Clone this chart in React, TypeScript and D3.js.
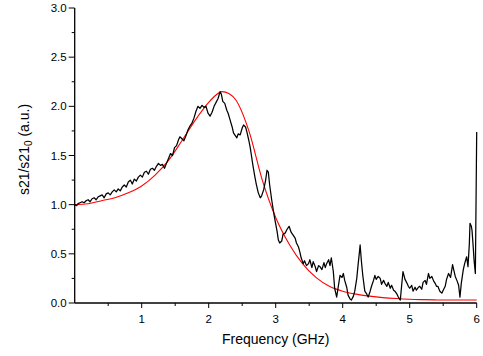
import React from "react";
import * as d3 from "d3";

const xTicks = [1, 2, 3, 4, 5, 6];
const xMinor = [0.5, 1.5, 2.5, 3.5, 4.5, 5.5];
const yTicks = [0, 0.5, 1.0, 1.5, 2.0, 2.5, 3.0];
const yMinor = [0.25, 0.75, 1.25, 1.75, 2.25, 2.75];

const fitFreq = [0, 0.2, 0.4, 0.6, 0.8, 1.0, 1.2, 1.4, 1.6, 1.8, 2.0, 2.1, 2.2, 2.3, 2.4, 2.6, 2.8, 3.0, 3.2, 3.4, 3.6, 3.8, 4.0, 4.2, 4.4, 4.6, 4.8, 5.0, 5.2, 5.4, 5.6, 5.8, 6.0];
const fitValue = [1.0, 1.01, 1.04, 1.07, 1.12, 1.19, 1.3, 1.45, 1.65, 1.86, 2.04, 2.11, 2.15, 2.13, 2.07, 1.75, 1.25, 0.87, 0.6, 0.4, 0.26, 0.17, 0.12, 0.09, 0.07, 0.055, 0.045, 0.038, 0.034, 0.031, 0.03, 0.03, 0.03];

const measFreq = [
  0.0, 0.03, 0.05, 0.08, 0.11, 0.14, 0.17, 0.2, 0.23, 0.26, 0.29, 0.32, 0.35, 0.38, 0.41, 0.44, 0.47, 0.5, 0.53, 0.56,
  0.59, 0.62, 0.65, 0.68, 0.71, 0.74, 0.77, 0.8, 0.83, 0.86, 0.89, 0.92, 0.95, 0.98, 1.01, 1.04, 1.07, 1.1, 1.13, 1.16,
  1.19, 1.22, 1.25, 1.28, 1.31, 1.34, 1.37, 1.4, 1.43, 1.46, 1.49, 1.52, 1.55, 1.57, 1.6, 1.63, 1.66, 1.69, 1.72, 1.75,
  1.78, 1.81, 1.84, 1.87, 1.9, 1.93, 1.96, 1.99, 2.02, 2.05, 2.08, 2.11, 2.14, 2.17, 2.19, 2.21, 2.24, 2.27, 2.29, 2.32,
  2.35, 2.37, 2.4, 2.42, 2.44, 2.47, 2.5, 2.52, 2.55, 2.57, 2.6, 2.62, 2.64, 2.66, 2.69, 2.71, 2.74, 2.77, 2.79, 2.82,
  2.85, 2.87, 2.89, 2.91, 2.94, 2.97, 2.99, 3.02, 3.04, 3.06, 3.09, 3.11, 3.14, 3.17, 3.2, 3.23, 3.26, 3.29, 3.31, 3.34,
  3.36, 3.38, 3.41, 3.43, 3.46, 3.49, 3.51, 3.54, 3.56, 3.59, 3.61, 3.64, 3.66, 3.69, 3.72, 3.74, 3.76, 3.79, 3.81, 3.83,
  3.86, 3.88, 3.91, 3.93, 3.96, 3.99, 4.01, 4.03, 4.06, 4.08, 4.11, 4.13, 4.16, 4.18, 4.21, 4.23, 4.25, 4.26, 4.28, 4.3,
  4.33, 4.36, 4.38, 4.41, 4.43, 4.46, 4.48, 4.5, 4.53, 4.56, 4.58, 4.61, 4.63, 4.66, 4.68, 4.71, 4.73, 4.76, 4.78, 4.81,
  4.83, 4.86, 4.88, 4.9, 4.93, 4.96, 4.98, 5.0, 5.03, 5.05, 5.08, 5.1, 5.13, 5.15, 5.18, 5.2, 5.23, 5.25, 5.28, 5.3,
  5.33, 5.36, 5.38, 5.4, 5.42, 5.45, 5.48, 5.5, 5.53, 5.55, 5.58, 5.61, 5.64, 5.66, 5.68, 5.71, 5.73, 5.75, 5.77, 5.8,
  5.82, 5.85, 5.87, 5.89, 5.9, 5.92, 5.93, 5.95, 5.96, 5.98, 6.0
];
const measValue = [
  1.0, 0.99, 1.01, 1.02, 1.03, 1.02, 1.04, 1.05, 1.03, 1.06, 1.07, 1.05, 1.08, 1.09, 1.1, 1.07, 1.11, 1.12, 1.1, 1.13,
  1.15, 1.13, 1.16, 1.14, 1.18, 1.2, 1.18, 1.23, 1.25, 1.21, 1.26, 1.24, 1.28, 1.3, 1.28, 1.33, 1.34, 1.31, 1.36, 1.37,
  1.35, 1.39, 1.42, 1.4, 1.41, 1.37, 1.42, 1.47, 1.52, 1.5, 1.58, 1.6, 1.66, 1.69, 1.67, 1.65, 1.7, 1.76, 1.8, 1.83,
  1.88, 1.95, 2.0, 1.98, 2.01, 1.99, 2.0, 1.93, 1.9, 1.94, 2.0, 2.04, 2.08, 2.15, 2.12, 2.05, 2.03, 1.96, 1.93, 1.86,
  1.79, 1.73, 1.7, 1.68, 1.72, 1.71, 1.78, 1.81, 1.79, 1.74, 1.65, 1.58, 1.49, 1.4, 1.28, 1.21, 1.12, 1.07, 1.09, 1.15,
  1.25, 1.35, 1.33, 1.2, 1.05, 0.92, 0.84, 0.73, 0.64, 0.61, 0.63, 0.7, 0.71, 0.75, 0.78, 0.72, 0.69, 0.66, 0.61, 0.57,
  0.52, 0.46, 0.4, 0.43, 0.38, 0.4, 0.44, 0.36, 0.42, 0.37, 0.32, 0.38, 0.37, 0.34, 0.41, 0.36, 0.4, 0.44, 0.38, 0.46,
  0.32, 0.15, 0.06, 0.15, 0.28, 0.26, 0.3, 0.23, 0.16, 0.08, 0.04, 0.03, 0.07, 0.12, 0.25, 0.39, 0.52, 0.59, 0.42, 0.28,
  0.12, 0.09, 0.06, 0.12, 0.17, 0.23, 0.28, 0.24, 0.27, 0.25, 0.19, 0.23, 0.2, 0.17, 0.21, 0.15, 0.18, 0.13, 0.12, 0.09,
  0.06, 0.03, 0.18, 0.32, 0.24, 0.2, 0.17, 0.15, 0.18, 0.12, 0.16, 0.13, 0.16, 0.17, 0.14, 0.21, 0.23, 0.19, 0.3, 0.25,
  0.27, 0.22, 0.2, 0.17, 0.17, 0.12, 0.1, 0.13, 0.17, 0.24, 0.3, 0.26, 0.39, 0.33, 0.27, 0.22, 0.18, 0.06, 0.2, 0.34,
  0.4, 0.47, 0.37, 0.6, 0.81, 0.78, 0.74, 0.55, 0.44, 0.3, 1.74
];

const W = 483;
const H = 356;
const left = 74.7;
const right = 476.7;
const top = 8;
const bottom = 303;
const font = "'Liberation Sans', Arial, Helvetica, sans-serif";

export default function App() {
  const x = d3.scaleLinear().domain([0, 6]).range([left, right]);
  const y = d3.scaleLinear().domain([0, 3]).range([bottom, top]);

  const meas = measFreq.map((f, i) => [f, measValue[i]] as [number, number]);
  const fit = fitFreq.map((f, i) => [f, fitValue[i]] as [number, number]);

  const measLine = d3
    .line<[number, number]>()
    .x((d) => x(d[0]))
    .y((d) => y(d[1]));
  const fitLine = d3
    .line<[number, number]>()
    .x((d) => x(d[0]))
    .y((d) => y(d[1]))
    .curve(d3.curveMonotoneX);

  return (
    <svg
      width={W}
      height={H}
      style={{ position: "absolute", left: 0, top: 0, background: "#fff" }}
      fontFamily={font}
    >
      <path d={fitLine(fit) || ""} fill="none" stroke="#ff0000" strokeWidth={1.1} />
      <path d={measLine(meas) || ""} fill="none" stroke="#000" strokeWidth={1.25} strokeLinejoin="round" />

      <line x1={left} x2={left} y1={top} y2={bottom} stroke="#000" strokeWidth={1.3} />
      <line x1={left} x2={right} y1={bottom} y2={bottom} stroke="#000" strokeWidth={1.3} />

      {yTicks.map((t) => (
        <g key={"y" + t}>
          <line x1={left - 6} x2={left} y1={y(t)} y2={y(t)} stroke="#000" strokeWidth={1} />
          <text x={left - 8} y={y(t)} dy="0.35em" textAnchor="end" fontSize={11.5} fill="#000">
            {t.toFixed(1)}
          </text>
        </g>
      ))}
      {yMinor.map((t) => (
        <line key={"ym" + t} x1={left - 3} x2={left} y1={y(t)} y2={y(t)} stroke="#000" strokeWidth={1} />
      ))}
      {xTicks.map((t) => (
        <g key={"x" + t}>
          <line x1={x(t)} x2={x(t)} y1={bottom} y2={bottom + 5} stroke="#000" strokeWidth={1} />
          <text x={x(t)} y={bottom + 20} textAnchor="middle" fontSize={11.5} fill="#000">
            {t}
          </text>
        </g>
      ))}
      {xMinor.map((t) => (
        <line key={"xm" + t} x1={x(t)} x2={x(t)} y1={bottom} y2={bottom + 3} stroke="#000" strokeWidth={1} />
      ))}

      <text x={(left + right) / 2} y={344} textAnchor="middle" fontSize={14} fill="#000">
        Frequency (GHz)
      </text>
      <text
        transform={`translate(29, ${(top + bottom) / 2 - 6}) rotate(-90)`}
        textAnchor="middle"
        fontSize={14}
        fill="#000"
      >
        s21/s21<tspan fontSize={10} dy={3}>0</tspan>
        <tspan dy={-3}> (a.u.)</tspan>
      </text>
    </svg>
  );
}
